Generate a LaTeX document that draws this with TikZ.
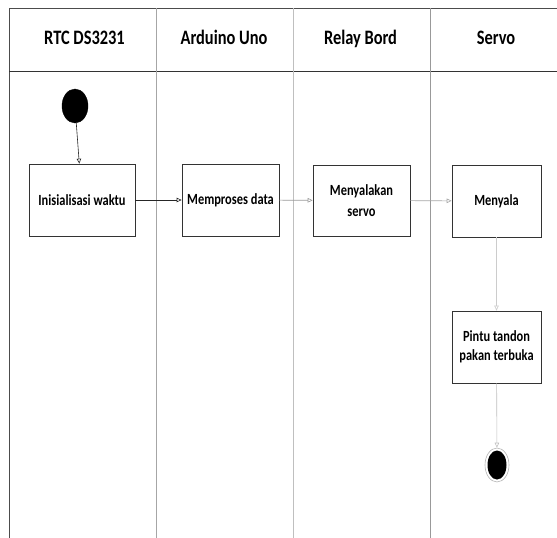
\documentclass[tikz,border=0pt]{standalone}
\usepackage{fontspec}
\setmainfont{Carlito}
\newfontfamily\narrowfont[FakeStretch=0.8]{Carlito}
\usetikzlibrary{arrows.meta,shapes.geometric}
\begin{document}
\begin{tikzpicture}[x=1pt,y=-1pt,
  lane/.style={draw=gray!80,line width=0.9pt},
  hdr/.style={anchor=base,font=\narrowfont\bfseries\fontsize{20.5}{22}\selectfont},
  act/.style={draw=black!80,line width=0.7pt,fill=white,align=center,font=\narrowfont\bfseries\fontsize{15.5}{21}\selectfont,inner sep=0pt},
  flow/.style={-{Triangle[open,length=5pt,width=4.5pt]},line width=0.6pt},
]
\useasboundingbox (0,0) rectangle (557,538);
% swimlane frame
\draw[lane,draw=black!70] (9,538) -- (9,8) -- (557,8);
\draw[draw=black!80,line width=0.8pt] (9,71) -- (557,71);
\draw[lane,draw=gray!70] (156,8) -- (156,538);
\draw[lane,draw=gray!50] (293,8) -- (293,538);
\draw[lane,draw=gray!80] (430,8) -- (430,538);
% headers
\node[hdr] (h1) at (84.5,44) {RTC DS3231};
\node[hdr] (h2) at (224,44) {Arduino Uno};
\node[hdr] (h3) at (360.5,44) {Relay Bord};
\node[hdr] (h4) at (496,44) {Servo};
% start
\node[draw=black,fill=black,ellipse,minimum width=26pt,minimum height=34pt,inner sep=0pt] (start) at (75,106) {};
% activities
\node[act,minimum width=106pt,minimum height=72pt] (a1) at (82,200) {Inisialisasi waktu};
\node[act,minimum width=97pt,minimum height=72pt] (a2) at (230.5,200) {Memproses data};
\node[act,minimum width=97pt,minimum height=71pt] (a3) at (361.5,200.5) {Menyalakan\\servo};
\node[act,minimum width=89pt,minimum height=72pt] (a4) at (496.5,201) {Menyala};
\node[act,minimum width=89pt,minimum height=72pt,font=\narrowfont\bfseries\fontsize{15.5}{19}\selectfont] (a5) at (496.5,347) {Pintu tandon\\pakan terbuka};
% end
\node[draw=gray!60,line width=0.6pt,ellipse,minimum width=24pt,minimum height=34pt,inner sep=0pt] (endo) at (497,465) {};
\node[fill=black,ellipse,minimum width=19pt,minimum height=29pt,inner sep=0pt] (endi) at (497,465) {};
% flows
\draw[flow,draw=black!85] (start) -- (a1);
\draw[flow,draw=black!85] (a1) -- (a2);
\draw[flow,draw=gray!80] (a2) -- (a3);
\draw[flow,draw=gray!70] (a3) -- (a4);
\draw[flow,draw=gray!40] (a4) -- (a5);
\draw[flow,draw=gray!50] (a5) -- (endo);
\end{tikzpicture}
\end{document}
